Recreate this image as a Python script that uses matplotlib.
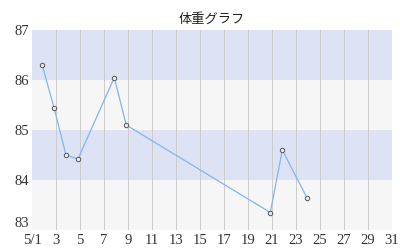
import matplotlib
matplotlib.use("Agg")
import matplotlib.pyplot as plt

# data (day of May, weight in kg)
days = [1.85, 2.83, 3.83, 4.83, 7.86, 8.85, 20.86, 21.86, 23.9]
weights = [86.3, 85.45, 84.5, 84.42, 86.05, 85.1, 83.35, 84.6, 83.65]

x_ticks = list(range(1, 32, 2))
x_labels = ["5/1"] + [str(d) for d in x_ticks[1:]]
y_ticks = [83, 84, 85, 86, 87]

BAND_BLUE = "#dde3f5"
BAND_GRAY = "#f6f6f6"
LINE = "#80b6f0"
GRID = "#cccccc"

NUM_FONT = ["Liberation Serif", "DejaVu Serif"]
JP_FONT = ["Noto Sans CJK JP", "DejaVu Sans"]

fig = plt.figure(figsize=(4, 2.5), dpi=100)
ax = fig.add_axes([0.08, 0.08, 0.90, 0.80])
ax.set_xlim(1, 31)
ax.set_ylim(83, 87)

# alternating horizontal bands
for lo, hi in zip(y_ticks[:-1], y_ticks[1:]):
    ax.axhspan(lo, hi, color=BAND_BLUE if lo % 2 == 0 else BAND_GRAY, lw=0, zorder=0)

for d in x_ticks[1:-1]:
    ax.axvline(d, color=GRID, lw=0.7, zorder=1)

ax.plot(days, weights, color=LINE, lw=0.9, zorder=2,
        marker="o", markersize=3.2, markerfacecolor="#e8eef8",
        markeredgecolor="#555555", markeredgewidth=0.7)

for s in ax.spines.values():
    s.set_visible(False)
ax.tick_params(axis="x", length=0, pad=3)
ax.tick_params(axis="y", length=0, pad=2)
ax.set_xticks(x_ticks)
ax.set_xticklabels(x_labels, family=NUM_FONT, fontsize=10.5, color="#333333")
ax.set_yticks(y_ticks)
ax.set_yticklabels([str(v) for v in y_ticks], family=NUM_FONT, fontsize=10.5, color="#333333")
# bottom label sits above the x labels
ax.get_yticklabels()[0].set_va("bottom")

ax.set_title("体重グラフ", family=JP_FONT, fontsize=9.5, color="#222222", pad=5)

fig.savefig("out.png", dpi=100, facecolor="white")
